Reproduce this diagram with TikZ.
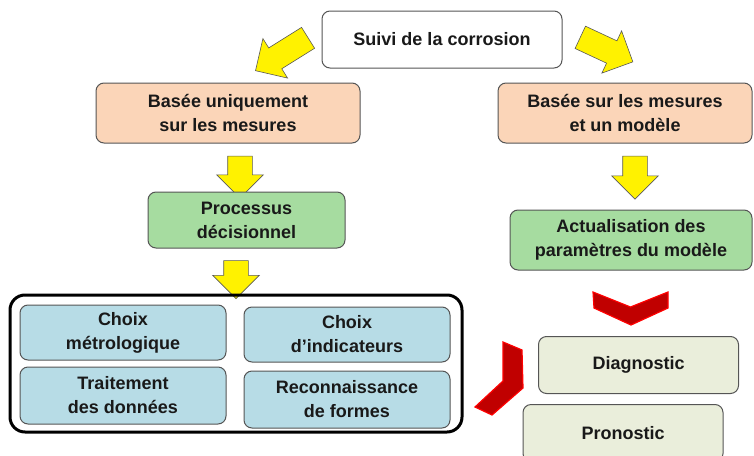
\documentclass[tikz,border=0pt]{standalone}
\usepackage{fontspec}
\setmainfont{Liberation Sans}
\usetikzlibrary{shapes.arrows}

\definecolor{boxline}{HTML}{555555}
\definecolor{peach}{HTML}{FBD5B8}
\definecolor{leaf}{HTML}{A6DCA0}
\definecolor{sky}{HTML}{B7DCE6}
\definecolor{cream}{HTML}{EAEEDB}
\definecolor{chevred}{HTML}{C00000}

\begin{document}
\begin{tikzpicture}[x=1pt, y=-1pt,
    box/.style={draw=boxline, line width=1pt, rounded corners=8pt, align=center,
        inner sep=0pt, text=black!90, font=\fontsize{18}{24}\selectfont\bfseries},
    plain/.style={box, fill=white},
    method/.style={box, fill=peach, minimum height=60pt},
    task/.style={box, fill=leaf},
    tool/.style={box, fill=sky, minimum width=206pt},
    output/.style={box, fill=cream, minimum width=200pt, minimum height=57pt},
    yarrow/.style={single arrow, draw=gray!70!black, fill=yellow, line width=0.6pt,
        inner xsep=0pt, inner ysep=12pt, single arrow head extend=11pt},
    chevron/.style={fill=chevred, draw=red, line width=1.2pt, line join=miter}
]
\useasboundingbox (0,0) rectangle (754,455);
\clip (0,0) rectangle (754,455);

% Top
\node[plain, minimum width=240pt, minimum height=57pt] (suivi) at (442,39.5) {Suivi de la corrosion};
\node[yarrow, minimum height=62pt, rotate=212] (gauche) at (287,51) {};
\node[yarrow, minimum height=58pt, rotate=-25] (droite) at (601,47) {};

% Left branch
\node[method, minimum width=264pt] (mesures) at (228,113) {Basée uniquement\\sur les mesures};
\node[yarrow, minimum height=42pt, rotate=-90] (fl1) at (240,171) {};
\node[task, minimum width=197pt, minimum height=56pt] (decision) at (246.5,220) {Processus\\décisionnel};
\node[yarrow, minimum height=38pt, rotate=-90] (fl2) at (236,273.5) {};

% Tools frame
\node[draw=black, line width=3pt, rounded corners=15pt, minimum width=452pt, minimum height=137pt] (cadre) at (236,363.5) {};
\node[tool, minimum height=55pt] (metro) at (123,332.5) {Choix\\métrologique};
\node[tool, minimum height=55pt] (indic) at (347,334.5) {Choix\\d’indicateurs};
\node[tool, minimum height=57pt] (traite) at (123,395.5) {Traitement\\des données};
\node[tool, minimum height=57pt] (formes) at (347,399.5) {Reconnaissance\\de formes};

% Right branch
\node[method, minimum width=254pt] (modele) at (625,113) {Basée sur les mesures\\et un modèle};
\node[yarrow, minimum height=43pt, rotate=-90] (fl3) at (635,171.5) {};
\node[task, minimum width=242pt, minimum height=60pt] (actual) at (631,240) {Actualisation des\\paramètres du modèle};

% Chevrons
\draw[chevron] (593,292) -- (630.5,307) -- (668,292) -- (668,308) -- (631,325) -- (594,308) -- cycle;
\draw[chevron] (503,342) -- (522,350) -- (523,388) -- (492,415) -- (475,407) -- (503,381) -- cycle;

% Outputs
\node[output] (diag) at (638.5,365) {Diagnostic};
\node[output] (prono) at (623,433) {Pronostic};

\end{tikzpicture}
\end{document}
